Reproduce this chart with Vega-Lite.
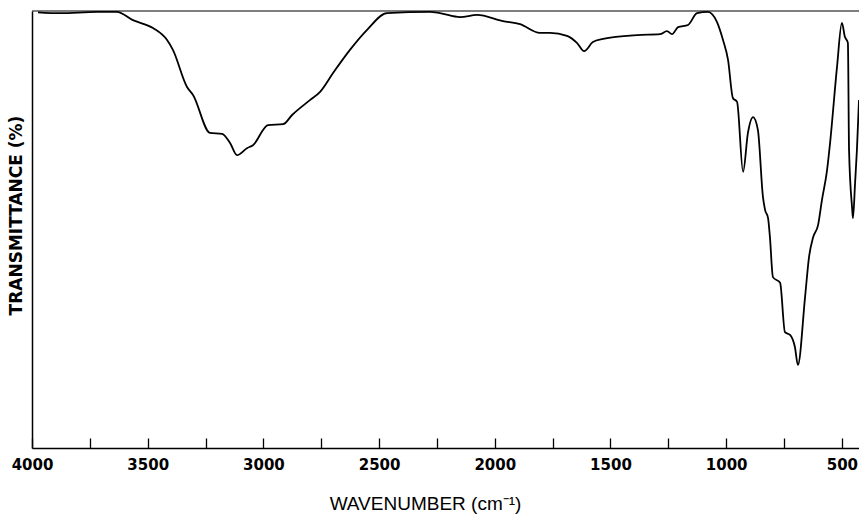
{
  "$schema": "https://vega.github.io/schema/vega-lite/v6.json",
  "autosize": "none",
  "width": 827,
  "height": 437,
  "padding": {"left": 32, "top": 11, "right": 0, "bottom": 66},
  "background": "white",
  "config": {"view": {"stroke": null}},
  "datasets": {
    "spectrum": [
      {"wn": 3974, "t": 99.7}, {"wn": 3879, "t": 99.5}, {"wn": 3719, "t": 99.8}, {"wn": 3633, "t": 99.8},
      {"wn": 3564, "t": 97.9}, {"wn": 3477, "t": 96.1}, {"wn": 3417, "t": 93.4}, {"wn": 3391, "t": 91.1},
      {"wn": 3330, "t": 82.6}, {"wn": 3304, "t": 80.8}, {"wn": 3231, "t": 72.1}, {"wn": 3179, "t": 71.9},
      {"wn": 3144, "t": 69.8}, {"wn": 3114, "t": 67.0}, {"wn": 3071, "t": 68.6}, {"wn": 3045, "t": 69.3},
      {"wn": 2980, "t": 73.9}, {"wn": 2915, "t": 74.1}, {"wn": 2876, "t": 76.2}, {"wn": 2799, "t": 79.6},
      {"wn": 2755, "t": 81.5}, {"wn": 2699, "t": 85.8}, {"wn": 2626, "t": 91.1}, {"wn": 2552, "t": 95.7},
      {"wn": 2466, "t": 99.5}, {"wn": 2280, "t": 99.8}, {"wn": 2237, "t": 99.5}, {"wn": 2150, "t": 98.6},
      {"wn": 2077, "t": 99.1}, {"wn": 1965, "t": 97.7}, {"wn": 1891, "t": 97.0}, {"wn": 1805, "t": 95.0},
      {"wn": 1761, "t": 95.0}, {"wn": 1688, "t": 94.3}, {"wn": 1645, "t": 92.7}, {"wn": 1614, "t": 90.8},
      {"wn": 1576, "t": 92.9}, {"wn": 1532, "t": 93.6}, {"wn": 1385, "t": 94.5}, {"wn": 1286, "t": 94.7},
      {"wn": 1256, "t": 95.4}, {"wn": 1234, "t": 94.7}, {"wn": 1208, "t": 96.3}, {"wn": 1165, "t": 96.8},
      {"wn": 1126, "t": 99.5}, {"wn": 1079, "t": 99.8}, {"wn": 1040, "t": 97.5}, {"wn": 1014, "t": 93.4},
      {"wn": 992, "t": 88.8}, {"wn": 971, "t": 80.1}, {"wn": 953, "t": 79.2}, {"wn": 927, "t": 63.2},
      {"wn": 906, "t": 72.1}, {"wn": 884, "t": 75.7}, {"wn": 863, "t": 72.8}, {"wn": 841, "t": 57.4},
      {"wn": 832, "t": 54.5}, {"wn": 819, "t": 52.6}, {"wn": 811, "t": 48.3}, {"wn": 798, "t": 39.1},
      {"wn": 767, "t": 37.8}, {"wn": 746, "t": 26.5}, {"wn": 724, "t": 25.9}, {"wn": 703, "t": 23.1},
      {"wn": 690, "t": 19.0}, {"wn": 659, "t": 34.6}, {"wn": 642, "t": 43.7}, {"wn": 625, "t": 48.1},
      {"wn": 603, "t": 51.0}, {"wn": 586, "t": 56.8}, {"wn": 564, "t": 63.6}, {"wn": 551, "t": 69.8},
      {"wn": 521, "t": 87.2}, {"wn": 500, "t": 97.3}, {"wn": 487, "t": 94.1}, {"wn": 474, "t": 92.7},
      {"wn": 469, "t": 68.2}, {"wn": 456, "t": 55.1}, {"wn": 452, "t": 52.6}, {"wn": 443, "t": 60.6},
      {"wn": 435, "t": 68.2}, {"wn": 426, "t": 79.6}
    ],
    "top": [{"wn0": 4000, "wn1": 426, "t": 100}]
  },
  "layer": [
    {
      "data": {"name": "top"},
      "mark": {"type": "rule", "stroke": "black", "strokeWidth": 1.2},
      "encoding": {
        "x": {"field": "wn0", "type": "quantitative", "scale": {"domain": [426, 4000], "reverse": true}},
        "x2": {"field": "wn1"},
        "y": {"field": "t", "type": "quantitative", "scale": {"domain": [0, 100]}}
      }
    },
    {
      "data": {"name": "spectrum"},
      "mark": {"type": "line", "stroke": "black", "strokeWidth": 1.8, "interpolate": "monotone"},
      "encoding": {
        "x": {
          "field": "wn", "type": "quantitative", "sort": null,
          "scale": {"domain": [426, 4000], "reverse": true, "nice": false, "zero": false},
          "axis": {
            "title": "WAVENUMBER (cm⁻¹)",
            "titleFont": "Liberation Sans", "titleFontSize": 19, "titleFontWeight": "normal",
            "titleColor": "black", "titlePadding": 22, "titleX": 393,
            "values": [4000, 3750, 3500, 3250, 3000, 2750, 2500, 2250, 2000, 1750, 1500, 1250, 1000, 750, 500],
            "labelExpr": "datum.value % 500 === 0 ? datum.value : ''",
            "labelFont": "DejaVu Sans", "labelFontWeight": "bold", "labelFontSize": 15,
            "labelColor": "black", "labelPadding": 19, "labelFlush": false, "labelOverlap": false,
            "tickSize": -10, "tickColor": "black", "tickWidth": 1.3,
            "domainColor": "black", "domainWidth": 1.5, "grid": false
          }
        },
        "y": {
          "field": "t", "type": "quantitative",
          "scale": {"domain": [0, 100], "nice": false},
          "axis": {
            "title": "TRANSMITTANCE (%)",
            "titleFont": "DejaVu Sans", "titleFontWeight": "bold", "titleFontSize": 17,
            "titleColor": "black", "titlePadding": 7, "titleY": 204,
            "labels": false, "ticks": false, "grid": false,
            "domainColor": "black", "domainWidth": 1.5
          }
        },
        "order": {"field": "wn", "sort": "descending"}
      }
    }
  ]
}
